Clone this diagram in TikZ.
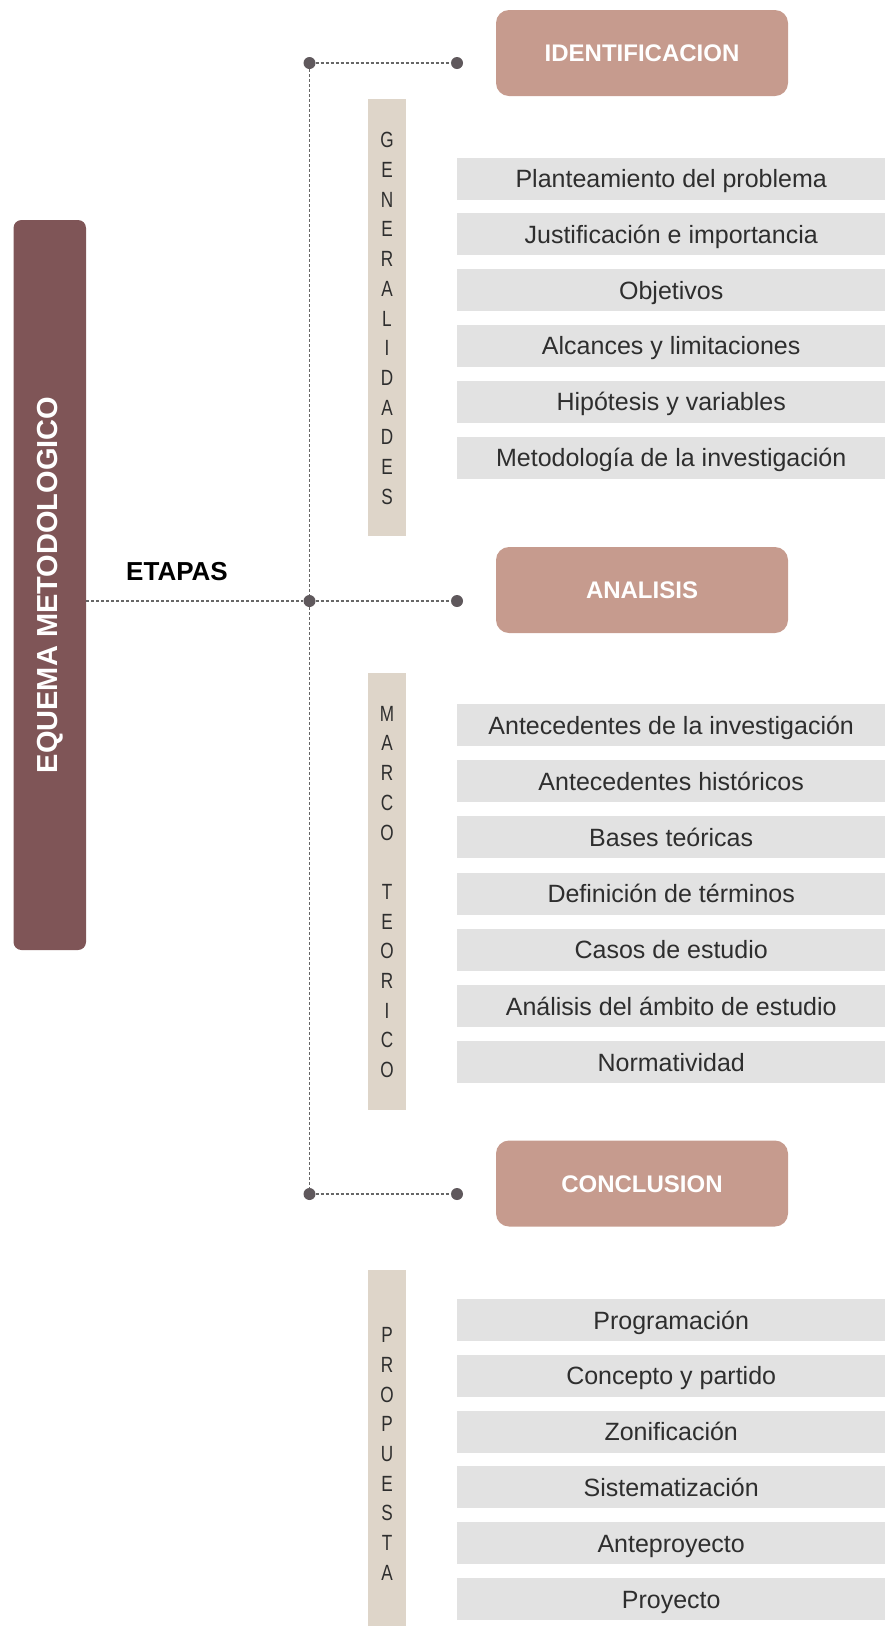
\documentclass[tikz,border=0pt]{standalone}
\usepackage{fontspec}
\setmainfont{Liberation Sans}
\usepackage{graphicx}
\definecolor{barcol}{HTML}{7F5557}
\definecolor{stagecol}{HTML}{C69B8E}
\definecolor{stripcol}{HTML}{DED5C9}
\definecolor{rowcol}{HTML}{E2E2E2}
\definecolor{dotcol}{HTML}{5F585C}
\definecolor{linecol}{HTML}{666666}
\definecolor{txtcol}{HTML}{2E2E2E}
\newcommand{\vletter}[1]{\scalebox{0.78}[1]{#1}}
\tikzset{
  mainbar/.style={draw=none, fill=barcol, rounded corners=8pt, minimum width=72.5pt, minimum height=730pt, inner sep=0pt, text=white, font=\fontsize{29}{32}\selectfont\bfseries},
  stagebox/.style={draw=none, fill=stagecol, rounded corners=13pt, minimum width=292pt, minimum height=86pt, inner sep=0pt, text=white, font=\fontsize{24}{28}\selectfont\bfseries, text height=17pt, text depth=0pt},
  stripbox/.style={draw=none, fill=stripcol, minimum width=38pt, inner sep=0pt, anchor=north},
  letters/.style={align=center, inner sep=0pt, text=txtcol, font=\fontsize{22}{29.7}\selectfont},
  rowbox/.style={draw=none, fill=rowcol, minimum width=428pt, minimum height=42pt, inner sep=0pt, anchor=west, text=txtcol, font=\fontsize{25}{29}\selectfont, text height=18pt, text depth=0pt},
  jdot/.style={circle, fill=dotcol, draw=none, minimum size=12pt, inner sep=0pt},
  dotline/.style={draw=linecol, line width=1.5pt, dash pattern=on 3pt off 2pt},
}
\begin{document}
\begin{tikzpicture}[x=1pt, y=-1pt]
\useasboundingbox (0,0) rectangle (885,1626);

% main bar
\node[mainbar] (bar) at (49.75,585) {\rotatebox{90}{EQUEMA METODOLOGICO}};
\node[font=\fontsize{26}{30}\selectfont\bfseries, inner sep=0pt] (etapas) at (177,572) {ETAPAS};

% stage boxes
\node[stagebox] (ident) at (642,53) {IDENTIFICACION};
\node[stagebox] (anal) at (642,590) {ANALISIS};
\node[stagebox] (concl) at (642,1183.5) {CONCLUSION};

% junction dots
\node[jdot] (c1) at (309.5,63) {};
\node[jdot] (c2) at (309.5,601) {};
\node[jdot] (c3) at (309.5,1194) {};
\node[jdot] (e1) at (457,63) {};
\node[jdot] (e2) at (457,601) {};
\node[jdot] (e3) at (457,1194) {};

% connectors
\draw[dotline] (c1) -- (c2);
\draw[dotline] (c2) -- (c3);
\draw[dotline] (bar.east |- c2) -- (c2);
\draw[dotline] (c1) -- (e1);
\draw[dotline] (c2) -- (e2);
\draw[dotline] (c3) -- (e3);

% strips
\node[stripbox, minimum height=437pt] (sgen) at (387,99) {};
\node[letters] (lgen) at (387,318.5) {\vletter{G}\\\vletter{E}\\\vletter{N}\\\vletter{E}\\\vletter{R}\\\vletter{A}\\\vletter{L}\\\vletter{I}\\\vletter{D}\\\vletter{A}\\\vletter{D}\\\vletter{E}\\\vletter{S}};
\node[stripbox, minimum height=437pt] (smar) at (387,673) {};
\node[letters] (lmar) at (387,892) {\vletter{M}\\\vletter{A}\\\vletter{R}\\\vletter{C}\\\vletter{O}\\\mbox{}\\\vletter{T}\\\vletter{E}\\\vletter{O}\\\vletter{R}\\\vletter{I}\\\vletter{C}\\\vletter{O}};
\node[stripbox, minimum height=356pt] (spro) at (387,1270) {};
\node[letters] (lpro) at (387,1454) {\vletter{P}\\\vletter{R}\\\vletter{O}\\\vletter{P}\\\vletter{U}\\\vletter{E}\\\vletter{S}\\\vletter{T}\\\vletter{A}};

% rows: generalidades
\node[rowbox] (g1) at (457,178.5) {Planteamiento del problema};
\node[rowbox] (g2) at (457,234.3) {Justificación e importancia};
\node[rowbox] (g3) at (457,290.1) {Objetivos};
\node[rowbox] (g4) at (457,345.9) {Alcances y limitaciones};
\node[rowbox] (g5) at (457,401.7) {Hipótesis y variables};
\node[rowbox] (g6) at (457,457.5) {Metodología de la investigación};

% rows: marco teorico
\node[rowbox] (m1) at (457,725) {Antecedentes de la investigación};
\node[rowbox] (m2) at (457,781.2) {Antecedentes históricos};
\node[rowbox] (m3) at (457,837.4) {Bases teóricas};
\node[rowbox] (m4) at (457,893.6) {Definición de términos};
\node[rowbox] (m5) at (457,949.8) {Casos de estudio};
\node[rowbox] (m6) at (457,1006) {Análisis del ámbito de estudio};
\node[rowbox] (m7) at (457,1062.2) {Normatividad};

% rows: propuesta
\node[rowbox] (p1) at (457,1320) {Programación};
\node[rowbox] (p2) at (457,1375.8) {Concepto y partido};
\node[rowbox] (p3) at (457,1431.6) {Zonificación};
\node[rowbox] (p4) at (457,1487.4) {Sistematización};
\node[rowbox] (p5) at (457,1543.2) {Anteproyecto};
\node[rowbox] (p6) at (457,1599) {Proyecto};
\end{tikzpicture}
\end{document}
